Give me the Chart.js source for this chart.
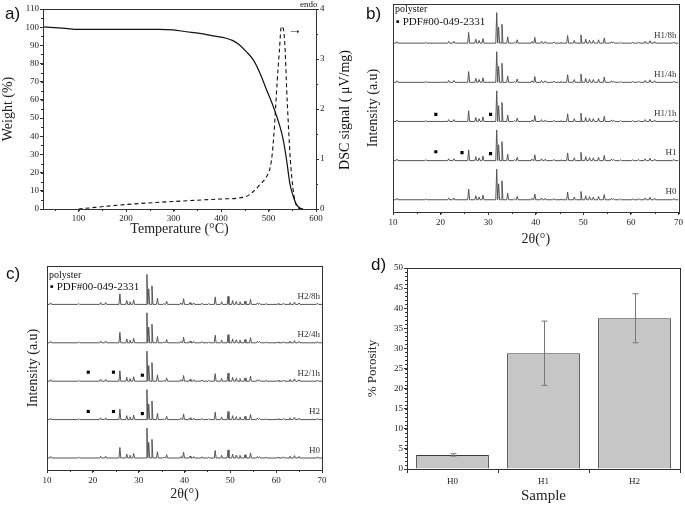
<!DOCTYPE html>
<html>
<head>
<meta charset="utf-8">
<script src="https://cdn.jsdelivr.net/npm/chart.js@4.4.1/dist/chart.umd.min.js"></script>
<style>
  body { margin: 0; background: #fff; }
  #wrap { position: relative; width: 685px; height: 506px; overflow: hidden; }
  canvas { position: absolute; }
  .lbl { position: absolute; white-space: nowrap; color: #111; font-family: 'Liberation Serif', serif; }
  .pan { position: absolute; font-family: 'Liberation Sans', sans-serif; font-size: 17px; color: #111; }
</style>
</head>
<body>
<div id="wrap">
  <canvas id="ca" width="360" height="250" style="left:0;top:0"></canvas>
  <canvas id="cb" width="330" height="250" style="left:355px;top:0"></canvas>
  <canvas id="cc" width="340" height="256" style="left:0;top:250px"></canvas>
  <canvas id="cd" width="330" height="256" style="left:355px;top:250px"></canvas>

  <div class="pan" style="left:5px;top:4px">a)</div>
  <div class="pan" style="left:366px;top:4px">b)</div>
  <div class="pan" style="left:6px;top:264px">c)</div>
  <div class="pan" style="left:371px;top:255px">d)</div>

  <div class="lbl" style="left:300px;top:-1px;font-size:9px">endo</div>
  <div class="lbl" style="left:288px;top:22px;font-size:14px">&rarr;</div>
  <div class="lbl" style="left:345px;top:110px;font-size:14px;transform:translate(-50%,-50%) rotate(-90deg)">DSC signal ( &mu;V/mg)</div>

  <div class="lbl" style="left:395px;top:3px;font-size:10px">polyster</div>
  <div class="lbl" style="left:396px;top:15px;font-size:11px">&#9642; PDF#00-049-2331</div>
  <div class="lbl" style="left:49px;top:269px;font-size:10px">polyster</div>
  <div class="lbl" style="left:50px;top:280px;font-size:11px">&#9642; PDF#00-049-2331</div>
</div>
<script>
// ---- a) TGA / DSC ----
const tgaTemp   = [25, 73, 100, 150, 200, 270, 299, 327, 355, 383, 411, 425, 439, 453, 468, 482, 496, 510, 524, 531, 538, 545, 552, 559, 566, 573];
const tgaWeight = [100.2, 99.3, 98.8, 98.8, 98.8, 98.8, 98.5, 97.5, 96.6, 95.2, 93.9, 92.6, 90.2, 86.6, 82, 74.7, 65.5, 56.4, 45.4, 38, 27, 14, 7, 2.4, 0.5, 0];
const dscTemp   = [100, 200, 300, 400, 450, 468, 482, 496, 504, 508, 513, 518, 523, 527, 531, 535, 538, 542, 546, 551, 556, 563, 570];
const dscSignal = [0, 0.09, 0.15, 0.2, 0.24, 0.35, 0.49, 0.65, 0.85, 1.12, 1.72, 2.52, 3.18, 3.65, 3.61, 3.18, 2.45, 1.65, 0.98, 0.45, 0.15, 0.02, 0];
const tempTicks = [100, 200, 300, 400, 500, 600];

// ---- b) c) XRD ----
const xrdPeakPos = [10.8, 16.9, 21.7, 22.8, 25.9, 27.4, 28.1, 28.9, 31.8, 32.2, 32.9, 34.1, 35.5, 36.1, 39.2, 39.8, 41.2, 42.0, 43.8, 45.3, 46.7, 48.1, 49.5, 50.5, 51.3, 52.1, 53.2, 54.4, 55.9, 56.4, 57.8, 60.4, 61.6, 63.0, 64.0, 65.0, 69.0];
const xrdPeakInt = [5, 3, 6, 6, 35, 13, 9, 15, 100, 52, 62, 21, 3, 11, 5, 19, 6, 5, 4, 3, 25, 9, 27, 13, 10, 9, 11, 17, 5, 4, 3, 3, 4, 6, 8, 5, 4];
const xrdOffsets = [0, 128, 256, 384, 512];
const samplesB = ['H0', 'H1', 'H1/1h', 'H1/4h', 'H1/8h'];
const samplesC = ['H0', 'H2', 'H2/1h', 'H2/4h', 'H2/8h'];
// PDF#00-049-2331 markers: 2theta, trace index, height above baseline
const markB_x = [19.0, 30.5, 19.0, 24.5, 30.5];
const markB_trace = [2, 2, 1, 1, 1];
const markB_h = [23, 23, 29, 26, 23];
const markC_x = [19.0, 24.5, 30.8, 19.0, 24.5, 30.8];
const markC_trace = [2, 2, 2, 1, 1, 1];
const markC_h = [30, 30, 20, 27, 27, 20];

// ---- d) porosity ----
const sampleNames = ['H0', 'H1', 'H2'];
const porosity = [3.5, 28.8, 37.5];
const porosityErr = [0.3, 8.0, 6.1];

Chart.defaults.font.family = "'Liberation Serif', serif";
Chart.defaults.color = '#222';
const tickFont = { size: 9 };
const titleFont = { size: 14 };
const axisCol = '#333';

const frame = {
  id: 'frame',
  afterDraw(chart) {
    const a = chart.chartArea, ctx = chart.ctx;
    ctx.save();
    ctx.strokeStyle = axisCol; ctx.lineWidth = 1;
    ctx.strokeRect(Math.round(a.left) + 0.5, Math.round(a.top) + 0.5, Math.round(a.right - a.left), Math.round(a.bottom - a.top));
    ctx.restore();
  }
};

const minorTicks = {
  id: 'minorTicks',
  afterDraw(chart, args, opts) {
    const ctx = chart.ctx;
    ctx.save();
    ctx.strokeStyle = axisCol; ctx.lineWidth = 1;
    for (const id in (opts.steps || {})) {
      const s = chart.scales[id], step = opts.steps[id];
      for (let v = Math.ceil(s.min / step) * step; v <= s.max + 1e-9; v += step) {
        const p = Math.round(s.getPixelForValue(v)) + 0.5;
        ctx.beginPath();
        if (s.isHorizontal()) { ctx.moveTo(p, chart.chartArea.bottom); ctx.lineTo(p, chart.chartArea.bottom + 2); }
        else if (s.position === 'left') { ctx.moveTo(chart.chartArea.left, p); ctx.lineTo(chart.chartArea.left - 2, p); }
        else { ctx.moveTo(chart.chartArea.right, p); ctx.lineTo(chart.chartArea.right + 2, p); }
        ctx.stroke();
      }
    }
    ctx.restore();
  }
};

const traceLabels = {
  id: 'traceLabels',
  afterDraw(chart, args, opts) {
    const ctx = chart.ctx, y = chart.scales.y;
    ctx.save();
    ctx.font = "9px 'Liberation Serif', serif";
    ctx.fillStyle = '#333';
    ctx.textAlign = 'right'; ctx.textBaseline = 'middle';
    opts.names.forEach((n, i) => {
      ctx.fillText(n, chart.chartArea.right - 2, y.getPixelForValue(xrdOffsets[i] + 26));
    });
    ctx.restore();
  }
};

const errorBars = {
  id: 'errorBars',
  afterDatasetsDraw(chart) {
    const ctx = chart.ctx, y = chart.scales.y;
    const meta = chart.getDatasetMeta(0);
    ctx.save();
    ctx.strokeStyle = '#777'; ctx.lineWidth = 1;
    meta.data.forEach((bar, i) => {
      const x = Math.round(bar.x) + 0.5;
      const t = y.getPixelForValue(porosity[i] + porosityErr[i]);
      const b = y.getPixelForValue(porosity[i] - porosityErr[i]);
      ctx.beginPath();
      ctx.moveTo(x, t); ctx.lineTo(x, b);
      ctx.moveTo(x - 3, t); ctx.lineTo(x + 3, t);
      ctx.moveTo(x - 3, b); ctx.lineTo(x + 3, b);
      ctx.stroke();
    });
    ctx.restore();
  }
};

function gridOpts() {
  return { drawOnChartArea: false, tickLength: 3, color: axisCol };
}

// a) -------------------------------------------------------------
new Chart(document.getElementById('ca'), {
  type: 'line',
  data: {
    datasets: [
      { data: tgaTemp.map((t, i) => ({ x: t, y: tgaWeight[i] })), yAxisID: 'y',
        borderColor: '#111', borderWidth: 1.2, pointRadius: 0, cubicInterpolationMode: 'monotone' },
      { data: dscTemp.map((t, i) => ({ x: t, y: dscSignal[i] })), yAxisID: 'y2',
        borderColor: '#111', borderWidth: 1.1, borderDash: [4, 3], pointRadius: 0, cubicInterpolationMode: 'monotone' }
    ]
  },
  options: {
    responsive: false, animation: false,
    layout: { padding: { top: 9, left: 0, right: 0, bottom: 8 } },
    plugins: { legend: { display: false }, tooltip: { enabled: false },
      minorTicks: { steps: { x: 50, y: 5, y2: 0.5 } } },
    scales: {
      x: { type: 'linear', min: 25, max: 600,
        afterBuildTicks: s => { s.ticks = tempTicks.map(v => ({ value: v })); },
        afterFit: s => { s.height = 33; },
        grid: gridOpts(), border: { color: axisCol },
        ticks: { font: tickFont, padding: 1, maxRotation: 0 },
        title: { display: true, text: 'Temperature (°C)', font: titleFont, padding: 4 } },
      y: { position: 'left', min: 0, max: 110,
        afterFit: s => { s.width = 43; },
        grid: gridOpts(), border: { color: axisCol },
        ticks: { stepSize: 10, font: tickFont, padding: 1 },
        title: { display: true, text: 'Weight (%)', font: titleFont, padding: 0 } },
      y2: { position: 'right', min: 0, max: 4,
        afterFit: s => { s.width = 44; },
        grid: gridOpts(), border: { color: axisCol },
        ticks: { stepSize: 1, font: tickFont, padding: 1 } }
    }
  },
  plugins: [frame, minorTicks]
});

// b) c) ----------------------------------------------------------
function xrdPattern() {
  const pts = [{ x: 10, y: 0 }];
  xrdPeakPos.forEach((p, i) => {
    pts.push({ x: p - 0.2, y: 0 }, { x: p, y: xrdPeakInt[i] }, { x: p + 0.2, y: 0 });
  });
  pts.push({ x: 70, y: 0 });
  return pts;
}

function xrdChart(id, names, mx, mt, mh, pad, yWidth, xHeight) {
  const pattern = xrdPattern();
  const sets = names.map((n, i) => ({
    label: n,
    data: pattern.map(p => ({ x: p.x, y: p.y + xrdOffsets[i] })),
    borderColor: '#555', borderWidth: 1, pointRadius: 0, tension: 0
  }));
  sets.push({
    label: 'PDF#00-049-2331',
    data: mx.map((x, i) => ({ x: x, y: xrdOffsets[mt[i]] + mh[i] })),
    showLine: false, pointStyle: 'rect', pointRadius: 2.2,
    pointBackgroundColor: '#000', pointBorderWidth: 0, borderColor: '#000'
  });
  return new Chart(document.getElementById(id), {
    type: 'line',
    data: { datasets: sets },
    options: {
      responsive: false, animation: false,
      layout: { padding: pad },
      plugins: { legend: { display: false }, tooltip: { enabled: false },
        minorTicks: { steps: { x: 5 } }, traceLabels: { names: names } },
      scales: {
        x: { type: 'linear', min: 10, max: 70,
          afterFit: s => { s.height = xHeight; },
          grid: gridOpts(), border: { color: axisCol },
          ticks: { stepSize: 10, font: tickFont, padding: 2, maxRotation: 0 },
          title: { display: true, text: '2θ(°)', font: titleFont, padding: 0 } },
        y: { min: -40, max: 640,
          afterFit: s => { s.width = yWidth; },
          grid: { display: false }, border: { display: false },
          ticks: { display: false },
          title: { display: true, text: 'Intensity (a.u)', font: titleFont, padding: 0 } }
      }
    },
    plugins: [frame, minorTicks, traceLabels]
  });
}

xrdChart('cb', samplesB, markB_x, markB_trace, markB_h, { top: 2, left: 10, right: 5, bottom: 2 }, 28, 36);
xrdChart('cc', samplesC, markC_x, markC_trace, markC_h, { top: 16, left: 25, right: 18, bottom: 3 }, 22, 33);

// d) -------------------------------------------------------------
new Chart(document.getElementById('cd'), {
  type: 'bar',
  data: {
    labels: sampleNames,
    datasets: [{ data: porosity, backgroundColor: '#c6c6c6', borderColor: '#3a3a3a', borderWidth: 1,
      categoryPercentage: 1, barPercentage: 0.8 }]
  },
  options: {
    responsive: false, animation: false,
    layout: { padding: { top: 18, left: 10, right: 5, bottom: 1 } },
    plugins: { legend: { display: false }, tooltip: { enabled: false },
      minorTicks: { steps: { y: 1 } } },
    scales: {
      x: { afterFit: s => { s.height = 36; },
        grid: { drawOnChartArea: false, tickLength: 4, color: axisCol, offset: true }, border: { color: axisCol },
        ticks: { font: tickFont, padding: 3 },
        title: { display: true, text: 'Sample', font: { size: 15 }, padding: 0 } },
      y: { min: 0, max: 50,
        afterFit: s => { s.width = 42; },
        grid: gridOpts(), border: { color: axisCol },
        ticks: { stepSize: 5, font: tickFont, padding: 1 },
        title: { display: true, text: '% Porosity', font: { size: 13 }, padding: 0 } }
    }
  },
  plugins: [frame, minorTicks, errorBars]
});
</script>
</body>
</html>
